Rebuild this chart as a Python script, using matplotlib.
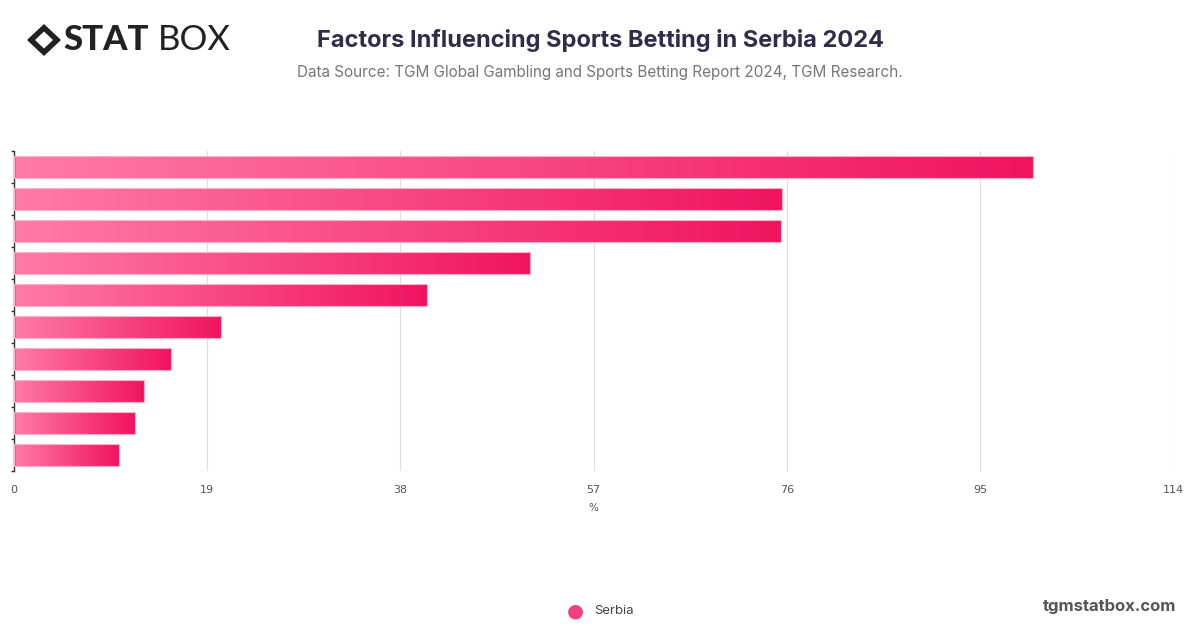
import numpy as np
import matplotlib.pyplot as plt
from matplotlib.colors import LinearSegmentedColormap
from matplotlib.patches import Polygon

# values, top bar first
series_name = "Serbia"
values = [100.2, 75.5, 75.4, 50.8, 40.6, 20.4, 15.4, 12.8, 11.9, 10.3]
xticks = [0, 19, 38, 57, 76, 95, 114]

cmap = LinearSegmentedColormap.from_list("pinks", ["#ff7ba7", "#f0145f"])

fig = plt.figure(figsize=(12, 6.28), dpi=100)
ax = fig.add_axes([14 / 1200, 1 - 471 / 628, 1159 / 1200, 320 / 628])

n = len(values)
h = 0.67
grad = np.linspace(0, 1, 256).reshape(1, -1)
for i, v in enumerate(values):
    y = i
    ax.imshow(grad, extent=[0, v, y + h / 2, y - h / 2], aspect="auto",
              cmap=cmap, interpolation="bicubic", zorder=2)
    ax.barh(y, v, height=h, facecolor="none", edgecolor="#ffb0c8",
            linewidth=0.8, zorder=3)

ax.set_xlim(0, 114)
ax.set_ylim(n - 0.5, -0.5)
ax.set_xticks(xticks)
ax.set_xticklabels([str(t) for t in xticks], fontsize=8, color="#555555")
ax.tick_params(axis="x", length=0, pad=10)
ax.set_yticks([])
ax.set_yticks(np.arange(-0.5, n, 1), minor=True)
ax.tick_params(axis="y", which="minor", length=2, color="#333333", width=1)
ax.grid(axis="x", color="#dddddd", linewidth=0.8, zorder=0)
ax.set_axisbelow(True)
for s in ["top", "right", "bottom"]:
    ax.spines[s].set_visible(False)
ax.spines["left"].set_color("#333333")
ax.spines["left"].set_linewidth(1)
ax.set_xlabel("%", fontsize=7.5, color="#555555", labelpad=6)

# titles
fig.text(0.5, 1 - 40 / 628, "Factors Influencing Sports Betting in Serbia 2024",
         ha="center", va="center", fontsize=17, fontweight="bold",
         color="#2f2d4a", family="Inter")
fig.text(0.5, 1 - 72 / 628,
         "Data Source: TGM Global Gambling and Sports Betting Report 2024, TGM Research.",
         ha="center", va="center", fontsize=11, color="#777777", family="Inter")

# logo
cx, cy = 44 / 1200, 1 - 40 / 628
dw, dh = 17 / 1200, 16 / 628
fig.patches.append(Polygon([[cx - dw, cy], [cx, cy + dh], [cx + dw, cy], [cx, cy - dh]],
                           closed=True, transform=fig.transFigure,
                           facecolor="#222222", edgecolor="none"))
iw, ih = 9 / 1200, 8.5 / 628
fig.patches.append(Polygon([[cx - iw, cy], [cx, cy + ih], [cx + iw, cy], [cx, cy - ih]],
                           closed=True, transform=fig.transFigure,
                           facecolor="white", edgecolor="none"))
fig.text(63 / 1200, cy, "STAT", ha="left", va="center", fontsize=25,
         fontweight="black", color="#222222", family="Lato")
fig.text(158 / 1200, cy, "BOX", ha="left", va="center", fontsize=25,
         fontweight="normal", color="#222222", family="Lato")

# legend and footer
fig.text(575 / 1200, 1 - 611 / 628, "\u25CF", ha="center", va="center",
         fontsize=14, color="#f2407e")
fig.text(594 / 1200, 1 - 611 / 628, series_name, ha="left", va="center",
         fontsize=9.5, color="#444444", family="Inter")
fig.text(1176 / 1200, 1 - 606 / 628, "tgmstatbox.com", ha="right", va="center",
         fontsize=12, fontweight="bold", color="#555555", family="Inter")

fig.savefig("out.png", dpi=100)
